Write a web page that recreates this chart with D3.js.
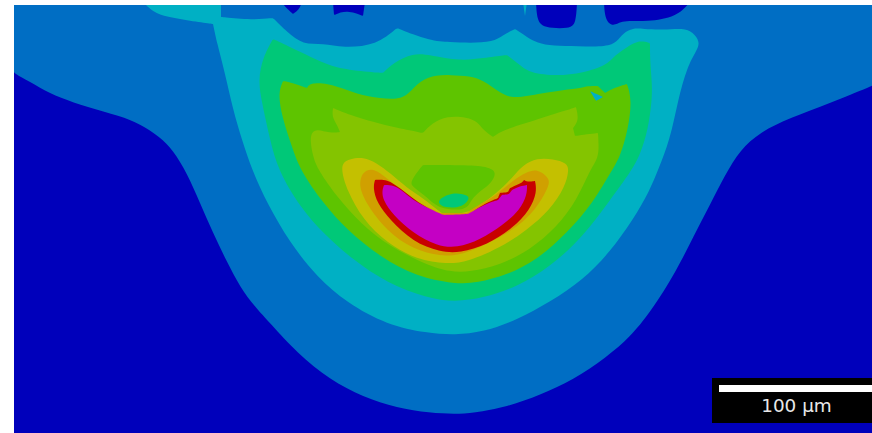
<!DOCTYPE html>
<html>
<head>
<meta charset="utf-8">
<script src="https://cdn.jsdelivr.net/npm/d3@7"></script>
<style>
  html, body { margin: 0; padding: 0; background: #fff; overflow: hidden; }
  svg { display: block; }
  .label { font-family: "DejaVu Sans", sans-serif; font-size: 18.4px; fill: #e8e8e8; }
</style>
</head>
<body>
<div id="here"></div>
<script>
// CONTOUR OUTLINES (section units, origin = top left of the section)
// a point written twice or three times keeps its corner sharp under the smoothing curve
const blueBand = [[-8,-8],[-8,-8],[-8,-8],[-8,65],[6,71],[26,83],[46,93],[73,102],[106,111],[126,119],[146,132],[159,145],[173,168],[186,198],[199,228],[213,257],[226,282],[241,302],[256,318],[283,348],[316,375],[349,392],[383,403],[416,408],[441,409],[459,408],[493,402],[526,390],[559,375],[593,352],[616,332],[636,308],[663,265],[679,232],[696,200],[711,170],[726,145],[746,127],[776,113],[816,98],[858,81],[870,76],[870,-8],[870,-8],[870,-8]];
const cyanBand = [[129,-3],[129,-3],[139,7],[153,12],[176,16],[199,19],[199,19],[199,19],[203,38],[211,68],[219,105],[228,135],[238,165],[253,198],[276,238],[303,272],[333,298],[373,320],[413,328],[441,330],[469,327],[503,315],[536,297],[569,275],[596,247],[619,215],[636,185],[644,165],[656,135],[664,95],[673,62],[683,45],[686,37],[679,27],[669,23],[649,25],[629,24],[619,23],[609,28],[603,37],[593,42],[563,41],[539,41],[523,38],[513,32],[501,24],[501,24],[489,30],[479,37],[456,38],[436,37],[416,36],[383,23],[383,23],[363,40],[329,43],[309,38],[289,40],[273,27],[259,13],[259,13],[239,15],[207,12],[207,12],[207,12],[207,-3],[207,-3],[207,-3]];
const greenBand = [[259,34],[259,34],[249,52],[244,75],[248,98],[256,135],[264,165],[286,202],[309,228],[339,255],[373,278],[413,293],[441,297],[469,293],[503,282],[536,262],[569,232],[596,195],[618,165],[626,150],[634,125],[638,95],[638,78],[636,55],[636,38],[636,38],[623,35],[609,45],[599,52],[593,60],[569,68],[543,71],[516,68],[506,60],[493,50],[493,50],[469,53],[446,56],[416,50],[399,48],[379,58],[369,68],[369,68],[333,65],[313,60],[289,48],[276,42]];
const leafBand = [[269,76],[269,76],[264,88],[268,112],[278,142],[286,165],[309,198],[333,225],[366,252],[403,272],[441,279],[463,278],[493,270],[523,255],[553,228],[579,198],[598,165],[606,152],[614,125],[618,95],[613,79],[613,79],[599,83],[591,88],[591,88],[584,81],[584,81],[573,81],[568,83],[549,85],[529,88],[499,94],[486,88],[469,75],[456,71],[436,70],[423,70],[406,75],[394,90],[383,95],[353,92],[333,85],[313,78],[296,78],[293,83],[293,83],[279,78]];
const limeBand = [[319,103],[319,103],[336,110],[359,117],[383,123],[409,128],[409,128],[418,118],[433,111],[453,112],[464,117],[469,125],[479,132],[479,132],[489,125],[513,118],[536,110],[554,105],[562,102],[562,102],[565,115],[559,123],[559,123],[561,131],[561,131],[573,129],[584,128],[584,128],[585,145],[583,155],[576,165],[563,195],[543,222],[516,245],[486,260],[456,267],[436,267],[413,260],[376,242],[346,218],[323,192],[304,165],[299,152],[296,135],[298,127],[303,124],[316,128],[326,127],[326,127],[323,120],[318,112]];
const yellowBand = [[328,158],[336,154],[349,152],[363,158],[376,168],[393,183],[409,193],[426,207],[431,210],[431,210],[453,208],[463,202],[483,188],[499,172],[509,160],[523,153],[539,154],[553,158],[555,165],[551,182],[536,205],[513,225],[486,243],[453,257],[433,259],[403,255],[373,238],[349,215],[333,185],[328,168]];
const orangeBand = [[346,175],[349,167],[358,163],[369,170],[383,182],[403,197],[426,208],[426,208],[453,208],[453,208],[459,203],[483,190],[499,175],[513,167],[523,164],[534,172],[536,178],[529,193],[513,215],[486,233],[453,248],[433,252],[406,247],[379,232],[356,205],[346,185]];
const redBand = [[359,183],[361,175],[361,175],[373,174],[386,183],[403,197],[429,212],[429,212],[454,211],[454,211],[466,201],[484,193],[484,193],[486,188],[486,188],[494,187],[494,187],[496,183],[496,183],[508,178],[510,175],[510,175],[513,177],[521,176],[521,176],[523,187],[516,205],[499,223],[473,240],[446,248],[426,247],[399,237],[376,215],[363,198]];
const magentaBand = [[368,186],[370,180],[370,180],[380,180],[390,187],[401,197],[429,210],[429,210],[454,209],[454,209],[469,200],[484,195],[484,195],[488,190],[488,190],[495,189],[495,189],[498,185],[498,185],[506,181],[513,180],[513,180],[513,190],[506,205],[489,220],[466,235],[443,243],[423,241],[399,228],[379,210],[369,195]];

// small patches
const leafIsland = [[396,178],[403,167],[409,160],[409,160],[453,160],[476,162],[483,168],[476,180],[463,188],[456,197],[453,205],[426,205],[413,192],[399,182]];
const greenIsland = [[423,195],[439,187],[453,190],[456,193],[449,202],[433,203],[426,200]];
const cyanNotch = [[576,86],[576,86],[589,92],[589,92],[582,96],[582,96]];
const cyanSpike = [[509,-3],[509,-3],[511,11],[511,11],[511,11],[513,-3],[513,-3]];
const deepBlobA = [[268,-3],[268,-3],[271,2],[279,9],[279,9],[285,5],[288,-3],[288,-3]];
const deepBlobB = [[319,-3],[319,-3],[320,10],[320,10],[333,5],[349,11],[349,11],[351,-3],[351,-3]];
const deepBlobC = [[522,-3],[522,-3],[523,15],[529,23],[556,24],[562,18],[563,-3],[563,-3]];
const deepBlobD = [[590,-3],[590,-3],[591,15],[599,22],[608,15],[633,17],[663,12],[676,-3],[676,-3]];

// Level names and their colours
const levels = ["deep", "blue", "cyan", "green", "leaf", "lime", "yellow", "orange", "red", "magenta"];
const levelColors = ["#0000bb", "#006ec4", "#00b0c4", "#00c878", "#5ec400", "#84c400", "#c4c000", "#d0a000", "#c80000", "#c400c4"];

// Painting order, back to front
const outlines = [blueBand, cyanBand, greenBand, leafBand, limeBand, leafIsland, greenIsland, yellowBand, orangeBand, redBand, magentaBand, cyanNotch, cyanSpike, deepBlobA, deepBlobB, deepBlobC, deepBlobD];
const outlineLevels = ["blue", "cyan", "green", "leaf", "lime", "leaf", "green", "yellow", "orange", "red", "magenta", "cyan", "cyan", "deep", "deep", "deep", "deep"];

// Scale bar, in section units
const barExtent = [705, 860];
const barLabel = "100 µm";

const width = 872;
const height = 433;
const margin = { top: 5, left: 14 };

const x = d3.scaleLinear().domain([0, 858]).range([margin.left, width]);
const y = d3.scaleLinear().domain([0, 428]).range([margin.top, height]);
const color = d3.scaleOrdinal().domain(levels).range(levelColors);

const svg = d3.select("#here")
    .append("svg")
    .attr("width", width)
    .attr("height", height);

svg.append("clipPath")
    .attr("id", "frame")
    .append("rect")
    .attr("x", x(0))
    .attr("y", y(0))
    .attr("width", x(858) - x(0))
    .attr("height", y(428) - y(0));

const plot = svg.append("g").attr("clip-path", "url(#frame)");

// lowest level fills the whole section
plot.append("rect")
    .attr("x", x(0))
    .attr("y", y(0))
    .attr("width", x(858) - x(0))
    .attr("height", y(428) - y(0))
    .attr("fill", color("deep"));

const outline = d3.line()
    .x(function(d){ return x(d[0]); })
    .y(function(d){ return y(d[1]); })
    .curve(d3.curveBasisClosed);

plot.selectAll("path")
    .data(outlines)
    .enter()
    .append("path")
    .attr("d", outline)
    .attr("fill", function(d, i){
        return color(outlineLevels[i]);
    });

// SCALE BAR
svg.append("rect")
    .attr("x", x(698))
    .attr("y", y(373))
    .attr("width", x(858) - x(698))
    .attr("height", y(418) - y(373))
    .attr("fill", "black");

svg.append("rect")
    .attr("x", x(barExtent[0]))
    .attr("y", y(380))
    .attr("width", x(858) - x(barExtent[0]))
    .attr("height", y(387) - y(380))
    .attr("fill", "white");

svg.append("text")
    .attr("class", "label")
    .attr("x", x((barExtent[0] + barExtent[1]) / 2))
    .attr("y", y(406.5))
    .attr("text-anchor", "middle")
    .text(barLabel);
</script>
</body>
</html>
